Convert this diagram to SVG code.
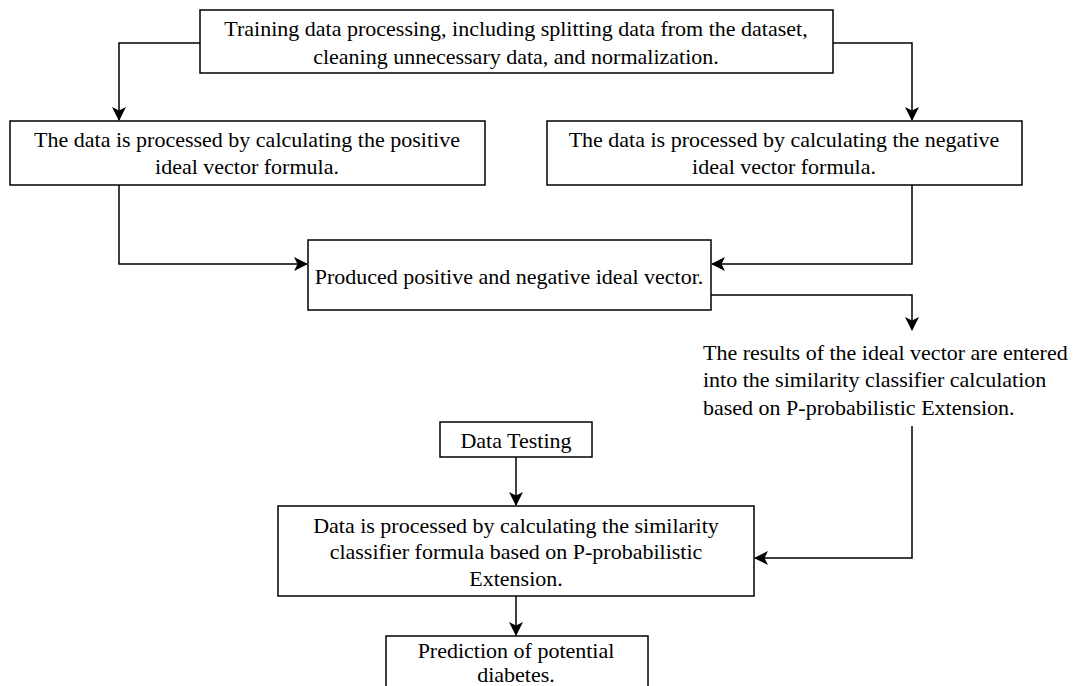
<svg xmlns="http://www.w3.org/2000/svg" width="1078" height="686" viewBox="0 0 1078 686">
<defs>
<style>
.box{fill:#fff;stroke:#000;stroke-width:1.5}
.t{font-family:"Liberation Serif","Times New Roman",serif;font-size:22px;fill:#000;text-anchor:middle}
.tl{font-family:"Liberation Serif","Times New Roman",serif;font-size:22px;fill:#000}
.c{fill:none;stroke:#000;stroke-width:1.5}
</style>
<marker id="ah" markerWidth="14" markerHeight="14" viewBox="0 0 14 14" refX="13" refY="7" orient="auto" markerUnits="userSpaceOnUse">
<path d="M0,0 L14,7 L0,14 L3.5,7 Z" fill="#000"/>
</marker>
</defs>
<rect width="1078" height="686" fill="#fff"/>
<g id="connectors">
<path class="c" d="M200,43 H119 V120" marker-end="url(#ah)"/>
<path class="c" d="M833,43 H912 V120" marker-end="url(#ah)"/>
<path class="c" d="M119,185 V264 H307" marker-end="url(#ah)"/>
<path class="c" d="M912,185 V264 H712" marker-end="url(#ah)"/>
<path class="c" d="M711,295 H912 V330" marker-end="url(#ah)"/>
<path class="c" d="M912,426 V558 H755" marker-end="url(#ah)"/>
<path class="c" d="M516,457 V505" marker-end="url(#ah)"/>
<path class="c" d="M516,596 V635" marker-end="url(#ah)"/>
</g>
<g id="n1">
<rect class="box" x="200" y="10" width="633" height="63"/>
<text class="t" x="516" y="36">Training data processing, including splitting data from the dataset,</text>
<text class="t" x="516" y="64">cleaning unnecessary data, and normalization.</text>
</g>
<g id="n2">
<rect class="box" x="10" y="121" width="475" height="64"/>
<text class="t" x="247" y="147">The data is processed by calculating the positive</text>
<text class="t" x="247" y="174">ideal vector formula.</text>
</g>
<g id="n3">
<rect class="box" x="547" y="121" width="475" height="64"/>
<text class="t" x="784" y="147">The data is processed by calculating the negative</text>
<text class="t" x="784" y="174">ideal vector formula.</text>
</g>
<g id="n4">
<rect class="box" x="308" y="240" width="403" height="70"/>
<text class="t" x="509" y="284">Produced positive and negative ideal vector.</text>
</g>
<g id="n5">
<text class="tl" x="703" y="360">The results of the ideal vector are entered</text>
<text class="tl" x="703" y="387">into the similarity classifier calculation</text>
<text class="tl" x="703" y="415">based on P-probabilistic Extension.</text>
</g>
<g id="n6">
<rect class="box" x="440" y="422" width="152" height="35"/>
<text class="t" x="516" y="448">Data Testing</text>
</g>
<g id="n7">
<rect class="box" x="278" y="506" width="476" height="90"/>
<text class="t" x="516" y="533">Data is processed by calculating the similarity</text>
<text class="t" x="516" y="559">classifier formula based on P-probabilistic</text>
<text class="t" x="516" y="586">Extension.</text>
</g>
<g id="n8">
<rect class="box" x="386" y="636" width="262" height="60"/>
<text class="t" x="516" y="658">Prediction of potential</text>
<text class="t" x="516" y="682">diabetes.</text>
</g>
</svg>
